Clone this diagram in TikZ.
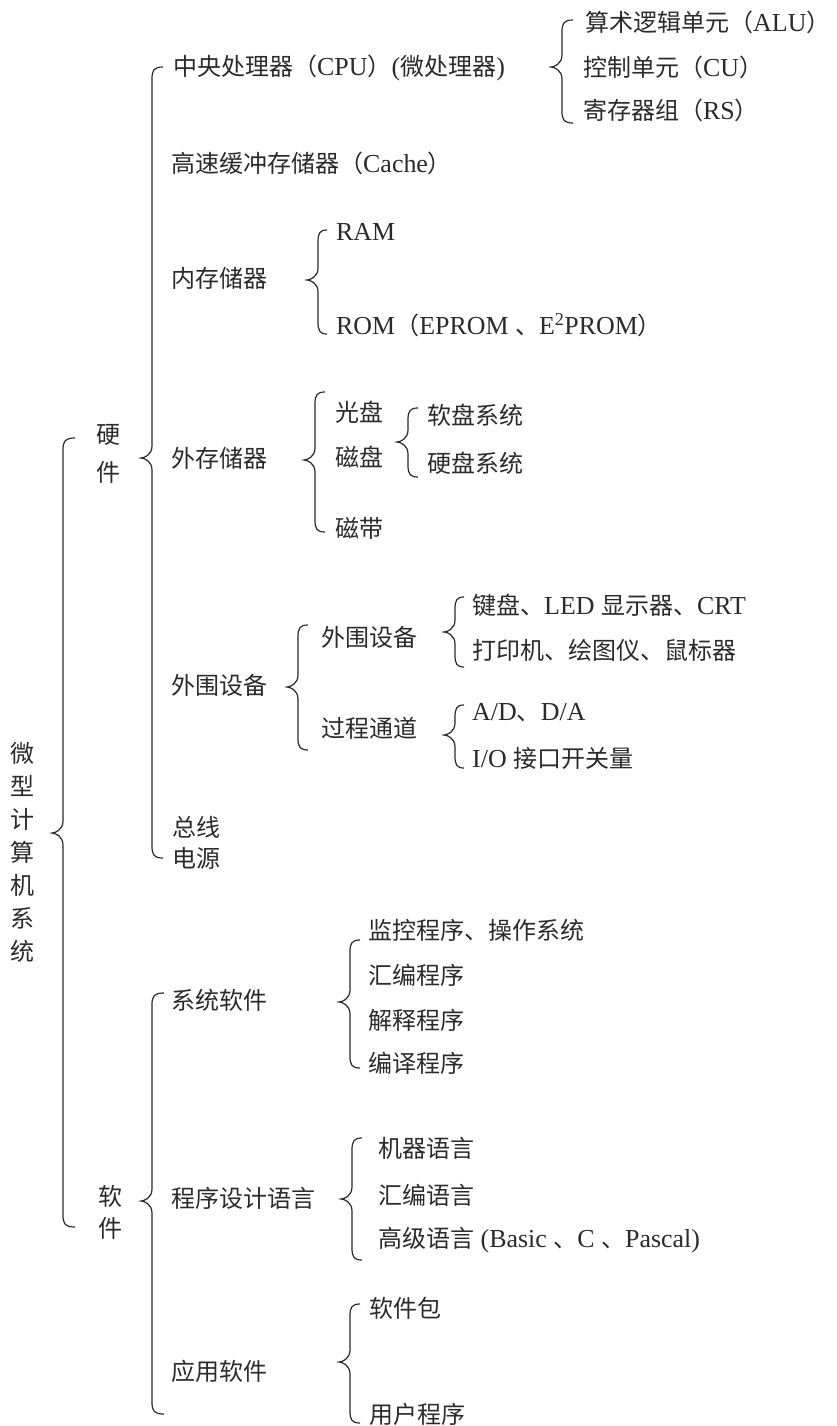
\documentclass[tikz,border=0pt]{standalone}
\usepackage{fontspec}
\setmainfont[Scale=1.08]{Liberation Serif}
\newfontfamily\cjk{Noto Sans CJK SC}
\newcommand\zh[1]{{\cjk #1}}
\definecolor{ink}{HTML}{2B2B2B}
\newcommand\brc[5]{%
  \draw[br] ({#1+#5},#2) .. controls ({#1+2},#2) and (#1,{#2+3}) .. (#1,{#2+12})
    -- (#1,{#3-12}) .. controls (#1,{#3-3}) and ({#1-8},#3) .. ({#1-11},#3)
    .. controls ({#1-8},#3) and (#1,{#3+3}) .. (#1,{#3+12})
    -- (#1,{#4-12}) .. controls (#1,{#4-3}) and ({#1+2},#4) .. ({#1+#5},#4);}
\tikzset{
  lbl/.style={anchor=west, inner sep=0pt, text=ink, font=\fontsize{24}{29}\selectfont},
  vlbl/.style={inner sep=0pt, text=ink, align=center},
  br/.style={draw=ink, line width=1.2pt}
}
\begin{document}
\begin{tikzpicture}[x=1pt,y=-1pt]
\useasboundingbox[fill=white] (0,0) rectangle (837,1426);
% root and first level
\node[vlbl, font=\fontsize{24}{33}\selectfont\cjk] (sys) at (22,852) {微\\型\\计\\算\\机\\系\\统};
\node[vlbl, font=\fontsize{24}{38}\selectfont\cjk] (hw) at (108,454) {硬\\件};
\node[vlbl, font=\fontsize{24}{32}\selectfont\cjk] (sw) at (110,1212) {软\\件};
% hardware
\node[lbl] (cpu) at (173,68) {\zh{中央处理器（}CPU\zh{）}(\zh{微处理器})};
\node[lbl] (alu) at (585,22) {\zh{算术逻辑单元（}ALU\zh{）}};
\node[lbl] (cu) at (583,67) {\zh{控制单元（}CU\zh{）}};
\node[lbl] (rs) at (583,110) {\zh{寄存器组（}RS\zh{）}};
\node[lbl] (cache) at (171,163) {\zh{高速缓冲存储器（}Cache\zh{）}};
\node[lbl] (mem) at (171,278) {\zh{内存储器}};
\node[lbl] (ram) at (336,232) {RAM};
\node[lbl] (rom) at (336,325) {ROM\zh{（}EPROM \zh{、}E\textsuperscript{2}PROM\zh{）}};
\node[lbl] (ext) at (171,458) {\zh{外存储器}};
\node[lbl] (cd) at (335,412) {\zh{光盘}};
\node[lbl] (disk) at (335,457) {\zh{磁盘}};
\node[lbl] (tape) at (335,528) {\zh{磁带}};
\node[lbl] (fd) at (427,415) {\zh{软盘系统}};
\node[lbl] (hd) at (427,463) {\zh{硬盘系统}};
\node[lbl] (per) at (171,685) {\zh{外围设备}};
\node[lbl] (per2) at (321,637) {\zh{外围设备}};
\node[lbl] (chan) at (321,728) {\zh{过程通道}};
\node[lbl] (kbd) at (472,605) {\zh{键盘、}LED \zh{显示器、}CRT};
\node[lbl] (prn) at (472,650) {\zh{打印机、绘图仪、鼠标器}};
\node[lbl] (ad) at (472,713) {A/D\zh{、}D/A};
\node[lbl] (io) at (472,758) {I/O \zh{接口开关量}};
\node[lbl] (bus) at (172,827) {\zh{总线}};
\node[lbl] (pwr) at (172,858) {\zh{电源}};
% software
\node[lbl] (syssw) at (171,1000) {\zh{系统软件}};
\node[lbl] (mon) at (368,930) {\zh{监控程序、操作系统}};
\node[lbl] (asm) at (368,975) {\zh{汇编程序}};
\node[lbl] (intp) at (368,1020) {\zh{解释程序}};
\node[lbl] (comp) at (368,1063) {\zh{编译程序}};
\node[lbl] (lang) at (171,1198) {\zh{程序设计语言}};
\node[lbl] (ml) at (378,1148) {\zh{机器语言}};
\node[lbl] (al) at (378,1195) {\zh{汇编语言}};
\node[lbl] (hl) at (378,1240) {\zh{高级语言} (Basic \zh{、}C \zh{、}Pascal)};
\node[lbl] (app) at (171,1371) {\zh{应用软件}};
\node[lbl] (pkg) at (369,1308) {\zh{软件包}};
\node[lbl] (user) at (369,1414) {\zh{用户程序}};
% braces
\brc{63}{438}{833}{1227}{12}
\brc{152}{67}{458}{858}{11}
\brc{562}{20}{67}{123}{11}
\brc{318}{230}{280}{334}{9}
\brc{315}{392}{460}{532}{10}
\brc{408}{408}{442}{477}{10}
\brc{298}{625}{687}{750}{10}
\brc{455}{597}{632}{667}{9}
\brc{455}{705}{735}{768}{9}
\brc{152}{993}{1201}{1414}{12}
\brc{350}{940}{1002}{1068}{10}
\brc{352}{1138}{1199}{1260}{10}
\brc{350}{1304}{1362}{1423}{10}
\end{tikzpicture}
\end{document}
